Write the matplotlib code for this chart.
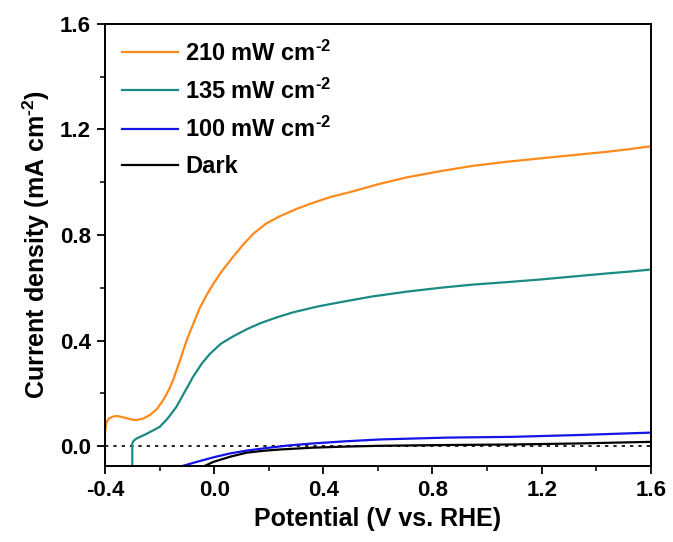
import matplotlib
matplotlib.use("Agg")
import matplotlib.pyplot as plt
from matplotlib.ticker import MultipleLocator

plt.rcParams['font.family'] = ['Liberation Sans', 'DejaVu Sans']
plt.rcParams['font.weight'] = 'bold'
plt.rcParams['mathtext.fontset'] = 'custom'
plt.rcParams['mathtext.rm'] = 'Liberation Sans:bold'
plt.rcParams['mathtext.bf'] = 'Liberation Sans:bold'
plt.rcParams['mathtext.it'] = 'Liberation Sans:bold'
plt.rcParams['mathtext.default'] = 'rm'

labels = ['210 mW cm$^{\\text{-2}}$', '135 mW cm$^{\\text{-2}}$', '100 mW cm$^{\\text{-2}}$', 'Dark']
colors = ['#FF8A1C', '#1A8A82', '#1414E6', '#000000']

x210 = [-0.400, -0.400, -0.395, -0.385, -0.370, -0.355, -0.330, -0.300, -0.284, -0.260, -0.235,
        -0.210, -0.186, -0.165, -0.150, -0.125, -0.101, -0.075, -0.052, -0.025, -0.003, 0.030,
        0.070, 0.105, 0.143, 0.190, 0.241, 0.300, 0.363, 0.430, 0.497, 0.600, 0.705, 0.830,
        0.949, 1.070, 1.193, 1.320, 1.438, 1.520, 1.600]
y210 = [-0.08, 0.05, 0.09, 0.105, 0.112, 0.114, 0.108, 0.100, 0.099, 0.104, 0.118,
        0.140, 0.175, 0.215, 0.251, 0.325, 0.400, 0.467, 0.525, 0.577, 0.615, 0.665,
        0.718, 0.762, 0.804, 0.843, 0.871, 0.898, 0.922, 0.945, 0.962, 0.992, 1.018, 1.042,
        1.062, 1.077, 1.090, 1.103, 1.115, 1.125, 1.136]

x135 = [-0.300, -0.300, -0.295, -0.284, -0.250, -0.199, -0.170, -0.138, -0.108, -0.077, -0.045,
        -0.015, 0.025, 0.070, 0.120, 0.168, 0.230, 0.290, 0.380, 0.461, 0.580, 0.705, 0.830,
        0.949, 1.070, 1.193, 1.320, 1.438, 1.520, 1.600]
y135 = [-0.08, 0.010, 0.020, 0.029, 0.045, 0.073, 0.105, 0.149, 0.205, 0.263, 0.313,
        0.350, 0.388, 0.416, 0.443, 0.465, 0.488, 0.507, 0.529, 0.545, 0.567, 0.585, 0.600,
        0.612, 0.621, 0.631, 0.643, 0.654, 0.661, 0.669]

x100 = [-0.125, -0.064, 0.000, 0.058, 0.120, 0.180, 0.270, 0.363, 0.480, 0.607, 0.851, 1.095,
        1.340, 1.600]
y100 = [-0.078, -0.060, -0.042, -0.028, -0.017, -0.009, 0.002, 0.010, 0.018, 0.025, 0.032, 0.035,
        0.042, 0.051]

xdark = [-0.040, -0.003, 0.060, 0.119, 0.180, 0.241, 0.363, 0.480, 0.607, 0.851, 1.095, 1.340, 1.600]
ydark = [-0.078, -0.060, -0.040, -0.025, -0.018, -0.013, -0.006, -0.002, 0.001, 0.004, 0.006,
         0.010, 0.016]

xs = [x210, x135, x100, xdark]
ys = [y210, y135, y100, ydark]

fig = plt.figure(figsize=(6.73, 5.42), dpi=100)
ax = fig.add_axes([0.156, 0.140, 0.811, 0.816])

ax.axhline(0, color='black', linestyle=(0, (2, 3)), linewidth=1.2, zorder=1)
for x, y, c, l in zip(xs, ys, colors, labels):
    ax.plot(x, y, color=c, linewidth=1.6, label=l, zorder=2)

ax.set_xlim(-0.4, 1.6)
ax.set_ylim(-0.076, 1.6)
ax.xaxis.set_major_locator(MultipleLocator(0.4))
ax.xaxis.set_minor_locator(MultipleLocator(0.2))
ax.yaxis.set_major_locator(MultipleLocator(0.4))
ax.yaxis.set_minor_locator(MultipleLocator(0.2))
ax.set_xticks([-0.4, 0.0, 0.4, 0.8, 1.2, 1.6])
ax.set_xticklabels(['-0.4', '0.0', '0.4', '0.8', '1.2', '1.6'])
ax.set_yticks([0.0, 0.4, 0.8, 1.2, 1.6])
ax.set_yticklabels(['0.0', '0.4', '0.8', '1.2', '1.6'])
ax.tick_params(which='major', direction='out', length=6, width=1.3, labelsize=16, pad=4)
ax.tick_params(which='minor', direction='out', length=3.5, width=1.1)
for s in ax.spines.values():
    s.set_linewidth(1.4)

ax.set_xlabel('Potential (V vs. RHE)', fontsize=18, fontweight='bold', labelpad=4)
ax.set_ylabel('Current density (mA cm$^{\\text{-2}}$)', fontsize=18, fontweight='bold', labelpad=6)

leg = ax.legend(loc='upper left', frameon=False, fontsize=17, handlelength=2.4,
                handletextpad=0.3, labelspacing=0.55, borderaxespad=0.3)

fig.savefig('out.png', dpi=100)
